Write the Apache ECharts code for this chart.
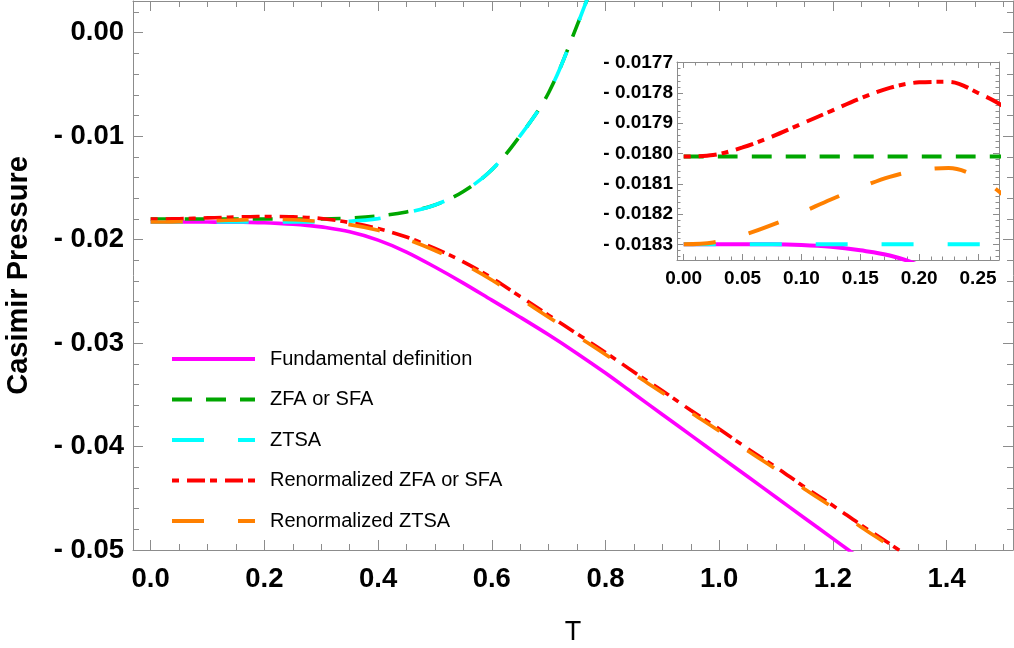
<!DOCTYPE html>
<html>
<head>
<meta charset="utf-8">
<script src="https://cdn.jsdelivr.net/npm/echarts@6/dist/echarts.min.js"></script>
<style>
html,body{margin:0;padding:0;background:#fff;}
#chart{width:1014px;height:648px;}
</style>
</head>
<body>
<div id="chart"></div>
<script>
// ---------------- data ----------------
const T = [0, 0.025, 0.05, 0.075, 0.1, 0.125, 0.15, 0.175, 0.2, 0.225, 0.25, 0.275, 0.3,
  0.35, 0.4, 0.45, 0.5, 0.55, 0.6, 0.65, 0.7, 0.75, 0.8, 0.85, 0.9, 0.95, 1.0,
  1.05, 1.1, 1.15, 1.2, 1.25, 1.3, 1.35];

const fundamental = [-0.018300, -0.018300, -0.018300, -0.018300, -0.018302, -0.018308, -0.018320, -0.018337, -0.018370, -0.018430, -0.018510, -0.018620, -0.018770,
  -0.01925, -0.02005, -0.02120, -0.02265, -0.02420, -0.02585, -0.02750, -0.02920, -0.03100, -0.03290, -0.03490, -0.03690, -0.03890, -0.04090,
  -0.04290, -0.04490, -0.04690, -0.04890, -0.05090, -0.05290, -0.05490];

const zfaSfa = [-0.018010, -0.018010, -0.018010, -0.018010, -0.018010, -0.018010, -0.018010, -0.018010, -0.018010, -0.018010, -0.018010, -0.018010, -0.018005,
  -0.01792, -0.01772, -0.01732, -0.01665, -0.01535, -0.01325, -0.00995, -0.00580, 0.00070, 0.00800, null, null, null, null,
  null, null, null, null, null, null, null];

const ztsa = [-0.018300, -0.018300, -0.018300, -0.018300, -0.018300, -0.018300, -0.018300, -0.018300, -0.018300, -0.018300, -0.018300, -0.018300, -0.018290,
  -0.01822, -0.01797, -0.01740, -0.01665, -0.01535, -0.01325, -0.00995, -0.00580, 0.00070, 0.00800, null, null, null, null,
  null, null, null, null, null, null, null];

const renZfaSfa = [-0.018010, -0.018005, -0.017980, -0.017944, -0.017902, -0.017860, -0.017818, -0.017783, -0.017765, -0.017763, -0.017800, -0.017855, -0.017960,
  -0.01835, -0.01893, -0.01975, -0.02085, -0.02215, -0.02370, -0.02550, -0.02730, -0.02910, -0.03090, -0.03280, -0.03460, -0.03650, -0.03830,
  -0.04020, -0.04200, -0.04390, -0.04570, -0.04760, -0.04940, -0.05130];

const renZtsa = [-0.018300, -0.018294, -0.018270, -0.018236, -0.018195, -0.018152, -0.018112, -0.018077, -0.018055, -0.018048, -0.018080, -0.018150, -0.018260,
  -0.01855, -0.01910, -0.01995, -0.02105, -0.02235, -0.02390, -0.02570, -0.02750, -0.02930, -0.03110, -0.03300, -0.03480, -0.03670, -0.03850,
  -0.04040, -0.04220, -0.04410, -0.04590, -0.04780, -0.04960, -0.05150];

const seriesNames = ['Fundamental definition', 'ZFA or SFA', 'ZTSA', 'Renormalized ZFA or SFA', 'Renormalized ZTSA'];

// tick labels
const mainXTicks = [0, 0.2, 0.4, 0.6, 0.8, 1.0, 1.2, 1.4];
const mainYTicks = [0, -0.01, -0.02, -0.03, -0.04, -0.05];
const insetXTicks = [0, 0.05, 0.1, 0.15, 0.2, 0.25];
const insetYTicks = [-0.0177, -0.0178, -0.0179, -0.018, -0.0181, -0.0182, -0.0183];

// ---------------- styles ----------------
const FONT = '"Liberation Sans", Arial, sans-serif';
const FRAME = '#8c8c8c';
const styles = [
  { color: '#FF00FF', type: 'solid' },
  { color: '#00A600', type: [20, 14] },
  { color: '#00FFFF', type: [32, 34] },
  { color: '#FF0000', type: [7, 8, 18, 5] },
  { color: '#FF8000', type: [32, 34] }
];
const dataSets = [fundamental, zfaSfa, ztsa, renZfaSfa, renZtsa];

function pairs(ys) { return T.map((t, i) => [t, ys[i]]); }

function range(a, b, step, skipEvery) {
  const out = [];
  for (let i = a; i <= b; i++) {
    if (skipEvery && i % skipEvery === 0) continue;
    out.push(Math.round(i * step * 1e7) / 1e7);
  }
  return out;
}

const mainXMinor = range(0, 30, 0.05, 4);
const mainYMinor = range(-25, 1, 0.002, 5);
const insetXMinor = range(0, 26, 0.01, 5);
const insetYMinor = range(0, 32, 1, 5).map(i => Math.round((-0.0177 - i * 0.00002) * 1e8) / 1e8);

function axisSet(dim, gridIndex, min, max, majors, minors, majorLen, minorLen, label, nameCfg) {
  const sides = dim === 'x' ? ['bottom', 'top'] : ['left', 'right'];
  const out = [];
  sides.forEach((pos, si) => {
    [true, false].forEach(isMajor => {
      const primary = si === 0 && isMajor;
      const ax = {
        type: 'value', gridIndex, position: pos, min, max,
        axisLine: { show: isMajor, onZero: false, lineStyle: { color: FRAME, width: 1 } },
        axisTick: { show: true, inside: true, length: isMajor ? majorLen : minorLen,
          customValues: isMajor ? majors : minors, lineStyle: { color: FRAME, width: 1 } },
        axisLabel: primary ? Object.assign({ show: true, customValues: majors }, label) : { show: false },
        splitLine: { show: false }
      };
      if (primary && nameCfg) {
        ax.name = nameCfg.name;
        ax.nameLocation = 'middle';
        ax.nameGap = nameCfg.gap;
        ax.nameTextStyle = nameCfg.style;
      }
      out.push(ax);
    });
  });
  return out;
}

const xAxes = [].concat(
  axisSet('x', 0, -0.0311, 1.5168, mainXTicks, mainXMinor, 10, 6, {
    margin: 15, color: '#000', fontWeight: 'bold', fontSize: 27.5, fontFamily: FONT,
    formatter: v => v.toFixed(1)
  }, { name: 'T', gap: 69, style: { color: '#000', fontSize: 27, fontFamily: FONT } }),
  axisSet('x', 1, -0.00569, 0.2678, insetXTicks, insetXMinor, 6, 3.5, {
    margin: 9, color: '#000', fontWeight: 'bold', fontSize: 19, fontFamily: FONT,
    formatter: v => v.toFixed(2)
  })
);

const yAxes = [].concat(
  axisSet('y', 0, -0.05, 0.003064, mainYTicks, mainYMinor, 10, 6, {
    margin: 9, color: '#000', fontWeight: 'bold', fontSize: 27.5, fontFamily: FONT,
    formatter: v => Math.abs(v) < 1e-9 ? '0.00' : '- ' + Math.abs(v).toFixed(2)
  }, { name: 'Casimir Pressure', gap: 100, style: { color: '#000', fontSize: 29, fontWeight: 'bold', fontFamily: FONT } }),
  axisSet('y', 1, -0.0183519, -0.0176977, insetYTicks, insetYMinor, 6, 3.5, {
    margin: 4, color: '#000', fontWeight: 'bold', fontSize: 19, fontFamily: FONT,
    formatter: v => '- ' + Math.abs(v).toFixed(4)
  })
);

// main axes: x 0, y 0 ; inset axes: x 4, y 4
const series = [];
dataSets.forEach((ys, i) => {
  series.push({
    name: seriesNames[i], type: 'line', xAxisIndex: 0, yAxisIndex: 0,
    data: pairs(ys), showSymbol: false, symbol: 'none', smooth: 0.35,
    clip: true, connectNulls: false, z: 2 + i,
    lineStyle: { color: styles[i].color, type: styles[i].type, width: 3.6 },
    itemStyle: { color: styles[i].color }
  });
});
dataSets.forEach((ys, i) => {
  series.push({
    name: seriesNames[i], type: 'line', xAxisIndex: 4, yAxisIndex: 4,
    data: pairs(ys), showSymbol: false, symbol: 'none', smooth: 0.35,
    clip: true, connectNulls: false, z: 12 + i,
    lineStyle: { color: styles[i].color, type: styles[i].type, width: 4 },
    itemStyle: { color: styles[i].color }
  });
});

const option = {
  animation: false,
  backgroundColor: '#fff',
  grid: [
    { left: 133, right: 1, top: 1, bottom: 98, containLabel: false, outerBoundsMode: 'none' },
    { left: 677, right: 15, top: 62, bottom: 388, containLabel: false, outerBoundsMode: 'none', show: true, backgroundColor: '#fff', borderWidth: 0 }
  ],
  xAxis: xAxes,
  yAxis: yAxes,
  legend: {
    data: seriesNames,
    orient: 'vertical',
    left: 170, top: 349, padding: 0,
    itemWidth: 83, itemHeight: 20, itemGap: 20.5,
    itemStyle: { opacity: 0 },
    lineStyle: { width: 4 },
    textStyle: { color: '#000', fontSize: 20, fontFamily: FONT, padding: [0, 0, 0, 10] },
    selectedMode: false
  },
  series
};

const chart = echarts.init(document.getElementById('chart'), null, { renderer: 'canvas' });
chart.setOption(option);
</script>
</body>
</html>
